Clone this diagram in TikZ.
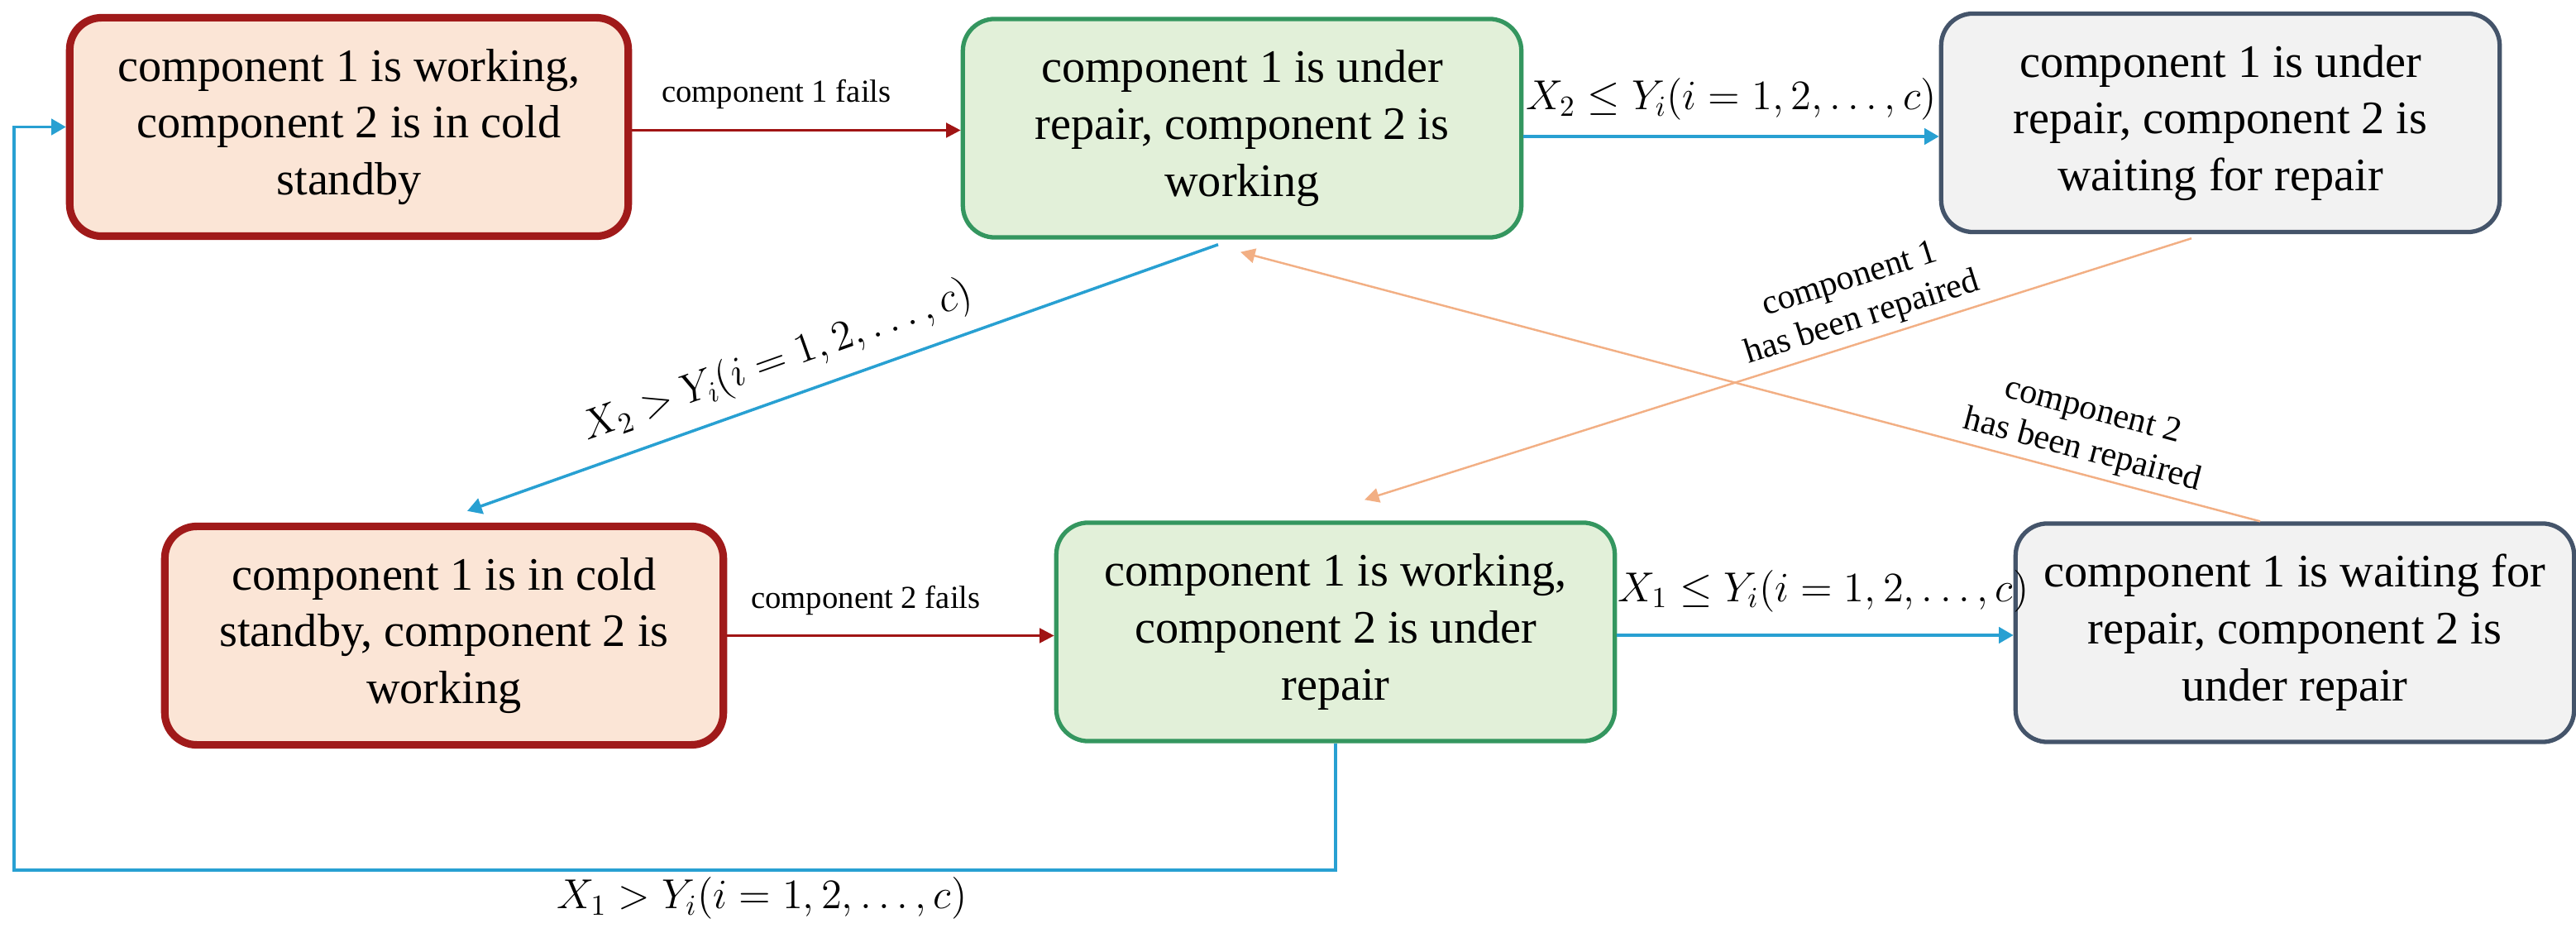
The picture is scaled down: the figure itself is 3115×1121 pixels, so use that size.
\documentclass[tikz,border=0pt]{standalone}
\usepackage{fontspec}
\setmainfont{Liberation Serif}
\usetikzlibrary{arrows.meta}
\definecolor{rdB}{RGB}{160,26,26}
\definecolor{rdF}{RGB}{251,229,214}
\definecolor{gnB}{RGB}{52,150,95}
\definecolor{gnF}{RGB}{226,240,217}
\definecolor{gyB}{RGB}{68,84,106}
\definecolor{gyF}{RGB}{242,242,242}
\definecolor{blueA}{RGB}{40,160,210}
\definecolor{orA}{RGB}{242,175,132}
\definecolor{redA}{RGB}{160,20,20}
\begin{document}
\begin{tikzpicture}[x=0.01cm,y=0.01cm,
  state/.style={rounded corners=11pt, minimum width=6.75cm, minimum height=2.64cm,
    align=center, inner sep=0pt, font=\fontsize{16}{19.6}\selectfont},
  redst/.style={state, draw=rdB, fill=rdF, line width=2.6pt},
  grnst/.style={state, draw=gnB, fill=gnF, line width=1.5pt},
  gryst/.style={state, draw=gyB, fill=gyF, line width=1.5pt},
  redarrow/.style={draw=redA, line width=0.9pt, -{Triangle[length=5pt,width=5pt]}},
  bluearrow/.style={draw=blueA, line width=1pt, -{Triangle[length=5pt,width=5.5pt]}},
  orarrow/.style={draw=orA, line width=0.7pt, -{Triangle[length=5pt,width=5pt]}},
  elabel/.style={inner sep=0pt, font=\fontsize{11}{13}\selectfont},
  mlabel/.style={inner sep=0pt, font=\fontsize{14}{16}\selectfont},
  olabel/.style={inner sep=2pt, align=center, font=\fontsize{12}{14}\selectfont}
]
\useasboundingbox (0,0) rectangle (3115,1121);

\node[redst] (A) at (422,967.5) {component 1 is working,\\component 2 is in cold\\standby};
\node[grnst] (B) at (1502,966) {component 1 is under\\repair, component 2 is\\working};
\node[gryst] (C) at (2685,972.5) {component 1 is under\\repair, component 2 is\\waiting for repair};
\node[redst] (D) at (537,352.5) {component 1 is in cold\\standby, component 2 is\\working};
\node[grnst] (E) at (1615,357) {component 1 is working,\\component 2 is under\\repair};
\node[gryst] (F) at (2775,356) {component 1 is waiting for\\repair, component 2 is\\under repair};

% horizontal transitions
\draw[redarrow] ([yshift=-0.04cm]A.east) -- node[elabel, above=7pt, xshift=-0.24cm] {component 1 fails} ([yshift=-0.04cm]A.east -| B.west);
\draw[bluearrow] ([yshift=-0.1cm]B.east) -- node[mlabel, above=5pt] {$X_2\le Y_i(i=1,2,\dots,c)$} ([yshift=-0.1cm]B.east -| C.west);
\draw[redarrow] (D.east) -- node[elabel, above=6.5pt, xshift=-0.3cm] {component 2 fails} (D.east -| E.west);
\draw[bluearrow] ([yshift=-0.04cm]E.east) -- node[mlabel, above=7.5pt, xshift=0.1cm] {$X_1\le Y_i(i=1,2,\dots,c)$} ([yshift=-0.04cm]E.east -| F.west);

% diagonal transitions
\draw[bluearrow] ([xshift=-0.29cm,yshift=-0.06cm]B.south) -- node[mlabel, sloped, above=5pt, pos=0.57] {$X_2> Y_i(i=1,2,\dots,c)$} ([xshift=0.28cm,yshift=0.14cm]D.north);
\draw[orarrow] ([xshift=-0.35cm,yshift=-0.05cm]C.south) -- node[olabel, sloped, above, pos=0.39] {component 1\\has been repaired} ([xshift=0.35cm,yshift=0.25cm]E.north);
\draw[orarrow] ([xshift=-0.42cm]F.north) -- node[olabel, sloped, above, pos=0.18] {component 2\\has been repaired} ([xshift=-0.02cm,yshift=-0.15cm]B.south);

% loop back
\coordinate (lb) at (17,69);
\draw[bluearrow] (E.south) |- node[mlabel, below=2pt, pos=0.717] {$X_1> Y_i(i=1,2,\dots,c)$} (lb) |- (A.west);
\end{tikzpicture}
\end{document}
